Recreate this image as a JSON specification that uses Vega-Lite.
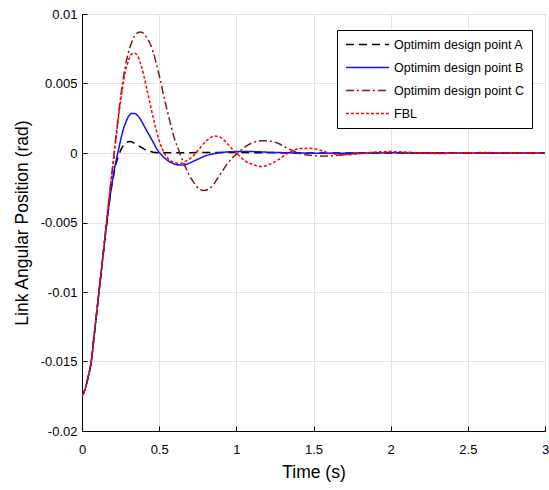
{
  "$schema": "https://vega.github.io/schema/vega-lite/v6.json",
  "width": 463,
  "height": 417,
  "autosize": {"type": "none"},
  "padding": {"left": 82, "top": 14, "right": 4, "bottom": 59},
  "background": "white",
  "config": {
    "view": {"stroke": "black", "strokeWidth": 1},
    "font": "Liberation Sans",
    "axis": {
      "domainColor": "black",
      "gridColor": "#e3e3e3",
      "gridWidth": 1,
      "tickColor": "black",
      "labelColor": "black",
      "titleColor": "black",
      "labelFont": "Liberation Sans",
      "titleFont": "Liberation Sans",
      "labelFontSize": 13,
      "titleFontSize": 17.5,
      "titleFontWeight": "normal"
    }
  },
  "data": {
    "values": [
      {"t": 0, "v": -0.0175, "s": "Optimim design point A"},
      {"t": 0.02, "v": -0.0170, "s": "Optimim design point A"},
      {"t": 0.04, "v": -0.0161, "s": "Optimim design point A"},
      {"t": 0.06, "v": -0.0150, "s": "Optimim design point A"},
      {"t": 0.08, "v": -0.0130, "s": "Optimim design point A"},
      {"t": 0.10, "v": -0.0110, "s": "Optimim design point A"},
      {"t": 0.12, "v": -0.0090, "s": "Optimim design point A"},
      {"t": 0.14, "v": -0.0070, "s": "Optimim design point A"},
      {"t": 0.16, "v": -0.0051, "s": "Optimim design point A"},
      {"t": 0.18, "v": -0.0033, "s": "Optimim design point A"},
      {"t": 0.20, "v": -0.0019, "s": "Optimim design point A"},
      {"t": 0.22, "v": -0.0008, "s": "Optimim design point A"},
      {"t": 0.24, "v": -0.0001, "s": "Optimim design point A"},
      {"t": 0.26, "v": 0.0004, "s": "Optimim design point A"},
      {"t": 0.28, "v": 0.0007, "s": "Optimim design point A"},
      {"t": 0.31, "v": 0.00082, "s": "Optimim design point A"},
      {"t": 0.34, "v": 0.0007, "s": "Optimim design point A"},
      {"t": 0.37, "v": 0.0005, "s": "Optimim design point A"},
      {"t": 0.40, "v": 0.0003, "s": "Optimim design point A"},
      {"t": 0.43, "v": 0.00015, "s": "Optimim design point A"},
      {"t": 0.46, "v": 0.00006, "s": "Optimim design point A"},
      {"t": 0.50, "v": 0.00002, "s": "Optimim design point A"},
      {"t": 0.6, "v": 0.00002, "s": "Optimim design point A"},
      {"t": 0.8, "v": 0.00003, "s": "Optimim design point A"},
      {"t": 1.0, "v": 0.00003, "s": "Optimim design point A"},
      {"t": 1.3, "v": 0.00001, "s": "Optimim design point A"},
      {"t": 1.6, "v": 0, "s": "Optimim design point A"},
      {"t": 2.0, "v": 0, "s": "Optimim design point A"},
      {"t": 2.5, "v": 0, "s": "Optimim design point A"},
      {"t": 3.0, "v": 0, "s": "Optimim design point A"},

      {"t": 0, "v": -0.0175, "s": "Optimim design point B"},
      {"t": 0.02, "v": -0.0170, "s": "Optimim design point B"},
      {"t": 0.04, "v": -0.0161, "s": "Optimim design point B"},
      {"t": 0.06, "v": -0.0150, "s": "Optimim design point B"},
      {"t": 0.08, "v": -0.0130, "s": "Optimim design point B"},
      {"t": 0.10, "v": -0.0110, "s": "Optimim design point B"},
      {"t": 0.12, "v": -0.0090, "s": "Optimim design point B"},
      {"t": 0.14, "v": -0.0070, "s": "Optimim design point B"},
      {"t": 0.16, "v": -0.0051, "s": "Optimim design point B"},
      {"t": 0.18, "v": -0.0033, "s": "Optimim design point B"},
      {"t": 0.20, "v": -0.0018, "s": "Optimim design point B"},
      {"t": 0.22, "v": -0.0006, "s": "Optimim design point B"},
      {"t": 0.24, "v": 0.0004, "s": "Optimim design point B"},
      {"t": 0.26, "v": 0.0014, "s": "Optimim design point B"},
      {"t": 0.28, "v": 0.0021, "s": "Optimim design point B"},
      {"t": 0.30, "v": 0.0026, "s": "Optimim design point B"},
      {"t": 0.32, "v": 0.00284, "s": "Optimim design point B"},
      {"t": 0.34, "v": 0.00285, "s": "Optimim design point B"},
      {"t": 0.36, "v": 0.0027, "s": "Optimim design point B"},
      {"t": 0.38, "v": 0.0024, "s": "Optimim design point B"},
      {"t": 0.40, "v": 0.0020, "s": "Optimim design point B"},
      {"t": 0.43, "v": 0.0014, "s": "Optimim design point B"},
      {"t": 0.46, "v": 0.0008, "s": "Optimim design point B"},
      {"t": 0.49, "v": 0.0002, "s": "Optimim design point B"},
      {"t": 0.52, "v": -0.0002, "s": "Optimim design point B"},
      {"t": 0.55, "v": -0.0005, "s": "Optimim design point B"},
      {"t": 0.58, "v": -0.0007, "s": "Optimim design point B"},
      {"t": 0.62, "v": -0.00085, "s": "Optimim design point B"},
      {"t": 0.65, "v": -0.00087, "s": "Optimim design point B"},
      {"t": 0.68, "v": -0.0008, "s": "Optimim design point B"},
      {"t": 0.72, "v": -0.0006, "s": "Optimim design point B"},
      {"t": 0.76, "v": -0.0004, "s": "Optimim design point B"},
      {"t": 0.80, "v": -0.0002, "s": "Optimim design point B"},
      {"t": 0.85, "v": -0.00006, "s": "Optimim design point B"},
      {"t": 0.90, "v": 0.00003, "s": "Optimim design point B"},
      {"t": 1.0, "v": 0.0001, "s": "Optimim design point B"},
      {"t": 1.1, "v": 0.0001, "s": "Optimim design point B"},
      {"t": 1.2, "v": 0.00006, "s": "Optimim design point B"},
      {"t": 1.4, "v": 0, "s": "Optimim design point B"},
      {"t": 1.6, "v": -0.00002, "s": "Optimim design point B"},
      {"t": 1.8, "v": 0, "s": "Optimim design point B"},
      {"t": 2.0, "v": 0.00001, "s": "Optimim design point B"},
      {"t": 2.5, "v": 0, "s": "Optimim design point B"},
      {"t": 3.0, "v": 0, "s": "Optimim design point B"},

      {"t": 0, "v": -0.0175, "s": "Optimim design point C"},
      {"t": 0.02, "v": -0.0170, "s": "Optimim design point C"},
      {"t": 0.04, "v": -0.0161, "s": "Optimim design point C"},
      {"t": 0.06, "v": -0.0150, "s": "Optimim design point C"},
      {"t": 0.08, "v": -0.0130, "s": "Optimim design point C"},
      {"t": 0.10, "v": -0.0110, "s": "Optimim design point C"},
      {"t": 0.12, "v": -0.0090, "s": "Optimim design point C"},
      {"t": 0.14, "v": -0.0070, "s": "Optimim design point C"},
      {"t": 0.16, "v": -0.0049, "s": "Optimim design point C"},
      {"t": 0.18, "v": -0.0028, "s": "Optimim design point C"},
      {"t": 0.20, "v": -0.0008, "s": "Optimim design point C"},
      {"t": 0.22, "v": 0.0012, "s": "Optimim design point C"},
      {"t": 0.24, "v": 0.0031, "s": "Optimim design point C"},
      {"t": 0.26, "v": 0.0048, "s": "Optimim design point C"},
      {"t": 0.28, "v": 0.0062, "s": "Optimim design point C"},
      {"t": 0.30, "v": 0.0072, "s": "Optimim design point C"},
      {"t": 0.32, "v": 0.0079, "s": "Optimim design point C"},
      {"t": 0.34, "v": 0.0084, "s": "Optimim design point C"},
      {"t": 0.36, "v": 0.00865, "s": "Optimim design point C"},
      {"t": 0.38, "v": 0.0087, "s": "Optimim design point C"},
      {"t": 0.40, "v": 0.0086, "s": "Optimim design point C"},
      {"t": 0.42, "v": 0.0083, "s": "Optimim design point C"},
      {"t": 0.44, "v": 0.0079, "s": "Optimim design point C"},
      {"t": 0.46, "v": 0.0073, "s": "Optimim design point C"},
      {"t": 0.48, "v": 0.0065, "s": "Optimim design point C"},
      {"t": 0.50, "v": 0.0056, "s": "Optimim design point C"},
      {"t": 0.52, "v": 0.0046, "s": "Optimim design point C"},
      {"t": 0.54, "v": 0.0036, "s": "Optimim design point C"},
      {"t": 0.56, "v": 0.0027, "s": "Optimim design point C"},
      {"t": 0.58, "v": 0.0018, "s": "Optimim design point C"},
      {"t": 0.60, "v": 0.0010, "s": "Optimim design point C"},
      {"t": 0.62, "v": 0.0004, "s": "Optimim design point C"},
      {"t": 0.64, "v": -0.0002, "s": "Optimim design point C"},
      {"t": 0.67, "v": -0.0010, "s": "Optimim design point C"},
      {"t": 0.70, "v": -0.0017, "s": "Optimim design point C"},
      {"t": 0.73, "v": -0.0022, "s": "Optimim design point C"},
      {"t": 0.76, "v": -0.0026, "s": "Optimim design point C"},
      {"t": 0.79, "v": -0.0027, "s": "Optimim design point C"},
      {"t": 0.82, "v": -0.0026, "s": "Optimim design point C"},
      {"t": 0.85, "v": -0.0023, "s": "Optimim design point C"},
      {"t": 0.88, "v": -0.0018, "s": "Optimim design point C"},
      {"t": 0.91, "v": -0.0013, "s": "Optimim design point C"},
      {"t": 0.94, "v": -0.0008, "s": "Optimim design point C"},
      {"t": 0.97, "v": -0.0004, "s": "Optimim design point C"},
      {"t": 1.00, "v": -0.0001, "s": "Optimim design point C"},
      {"t": 1.04, "v": 0.0003, "s": "Optimim design point C"},
      {"t": 1.08, "v": 0.0006, "s": "Optimim design point C"},
      {"t": 1.12, "v": 0.0008, "s": "Optimim design point C"},
      {"t": 1.17, "v": 0.00089, "s": "Optimim design point C"},
      {"t": 1.22, "v": 0.00085, "s": "Optimim design point C"},
      {"t": 1.27, "v": 0.0007, "s": "Optimim design point C"},
      {"t": 1.32, "v": 0.0004, "s": "Optimim design point C"},
      {"t": 1.36, "v": 0.0002, "s": "Optimim design point C"},
      {"t": 1.40, "v": 0, "s": "Optimim design point C"},
      {"t": 1.45, "v": -0.00012, "s": "Optimim design point C"},
      {"t": 1.52, "v": -0.0002, "s": "Optimim design point C"},
      {"t": 1.59, "v": -0.00022, "s": "Optimim design point C"},
      {"t": 1.66, "v": -0.00016, "s": "Optimim design point C"},
      {"t": 1.75, "v": -0.00006, "s": "Optimim design point C"},
      {"t": 1.85, "v": 0.00002, "s": "Optimim design point C"},
      {"t": 2.0, "v": 0.00004, "s": "Optimim design point C"},
      {"t": 2.2, "v": 0.00001, "s": "Optimim design point C"},
      {"t": 2.5, "v": -0.00001, "s": "Optimim design point C"},
      {"t": 3.0, "v": 0, "s": "Optimim design point C"},

      {"t": 0, "v": -0.0175, "s": "FBL"},
      {"t": 0.02, "v": -0.0170, "s": "FBL"},
      {"t": 0.04, "v": -0.0161, "s": "FBL"},
      {"t": 0.06, "v": -0.0150, "s": "FBL"},
      {"t": 0.08, "v": -0.0130, "s": "FBL"},
      {"t": 0.10, "v": -0.0110, "s": "FBL"},
      {"t": 0.12, "v": -0.0090, "s": "FBL"},
      {"t": 0.14, "v": -0.0069, "s": "FBL"},
      {"t": 0.16, "v": -0.0048, "s": "FBL"},
      {"t": 0.18, "v": -0.0028, "s": "FBL"},
      {"t": 0.20, "v": -0.0009, "s": "FBL"},
      {"t": 0.22, "v": 0.0010, "s": "FBL"},
      {"t": 0.24, "v": 0.0029, "s": "FBL"},
      {"t": 0.26, "v": 0.0045, "s": "FBL"},
      {"t": 0.28, "v": 0.0058, "s": "FBL"},
      {"t": 0.30, "v": 0.0066, "s": "FBL"},
      {"t": 0.32, "v": 0.0071, "s": "FBL"},
      {"t": 0.34, "v": 0.00718, "s": "FBL"},
      {"t": 0.36, "v": 0.0070, "s": "FBL"},
      {"t": 0.38, "v": 0.0064, "s": "FBL"},
      {"t": 0.40, "v": 0.0056, "s": "FBL"},
      {"t": 0.42, "v": 0.0046, "s": "FBL"},
      {"t": 0.44, "v": 0.0036, "s": "FBL"},
      {"t": 0.46, "v": 0.0026, "s": "FBL"},
      {"t": 0.48, "v": 0.0017, "s": "FBL"},
      {"t": 0.50, "v": 0.0009, "s": "FBL"},
      {"t": 0.52, "v": 0.0003, "s": "FBL"},
      {"t": 0.55, "v": -0.0003, "s": "FBL"},
      {"t": 0.58, "v": -0.0006, "s": "FBL"},
      {"t": 0.61, "v": -0.00072, "s": "FBL"},
      {"t": 0.64, "v": -0.00074, "s": "FBL"},
      {"t": 0.67, "v": -0.0006, "s": "FBL"},
      {"t": 0.70, "v": -0.0004, "s": "FBL"},
      {"t": 0.73, "v": -0.0001, "s": "FBL"},
      {"t": 0.76, "v": 0.0003, "s": "FBL"},
      {"t": 0.79, "v": 0.0007, "s": "FBL"},
      {"t": 0.82, "v": 0.0010, "s": "FBL"},
      {"t": 0.86, "v": 0.00122, "s": "FBL"},
      {"t": 0.90, "v": 0.0011, "s": "FBL"},
      {"t": 0.94, "v": 0.0007, "s": "FBL"},
      {"t": 0.98, "v": 0.0002, "s": "FBL"},
      {"t": 1.02, "v": -0.0002, "s": "FBL"},
      {"t": 1.06, "v": -0.0006, "s": "FBL"},
      {"t": 1.10, "v": -0.0008, "s": "FBL"},
      {"t": 1.16, "v": -0.00097, "s": "FBL"},
      {"t": 1.22, "v": -0.0008, "s": "FBL"},
      {"t": 1.27, "v": -0.0005, "s": "FBL"},
      {"t": 1.32, "v": -0.0001, "s": "FBL"},
      {"t": 1.37, "v": 0.0002, "s": "FBL"},
      {"t": 1.42, "v": 0.00032, "s": "FBL"},
      {"t": 1.48, "v": 0.00034, "s": "FBL"},
      {"t": 1.54, "v": 0.0002, "s": "FBL"},
      {"t": 1.60, "v": 0, "s": "FBL"},
      {"t": 1.66, "v": -0.0001, "s": "FBL"},
      {"t": 1.72, "v": -0.00012, "s": "FBL"},
      {"t": 1.80, "v": -0.00005, "s": "FBL"},
      {"t": 1.90, "v": 0.00006, "s": "FBL"},
      {"t": 2.0, "v": 0.0001, "s": "FBL"},
      {"t": 2.1, "v": 0.00006, "s": "FBL"},
      {"t": 2.2, "v": -0.00002, "s": "FBL"},
      {"t": 2.3, "v": -0.00004, "s": "FBL"},
      {"t": 2.45, "v": 0, "s": "FBL"},
      {"t": 2.6, "v": 0.00003, "s": "FBL"},
      {"t": 2.8, "v": 0, "s": "FBL"},
      {"t": 3.0, "v": 0, "s": "FBL"}
    ]
  },
  "mark": {"type": "line", "interpolate": "monotone", "clip": true},
  "encoding": {
    "x": {
      "field": "t", "type": "quantitative",
      "scale": {"domain": [0, 3], "nice": false},
      "axis": {"values": [0, 0.5, 1, 1.5, 2, 2.5, 3], "labelExpr": "datum.value + ''", "title": "Time (s)", "tickSize": -5, "labelPadding": 17, "titlePadding": 7, "labelFlush": false}
    },
    "y": {
      "field": "v", "type": "quantitative",
      "scale": {"domain": [-0.02, 0.01], "nice": false, "zero": false},
      "axis": {"values": [-0.02, -0.015, -0.01, -0.005, 0, 0.005, 0.01], "labelExpr": "datum.value + ''", "title": "Link Angular Position (rad)", "tickSize": -5, "labelPadding": 10, "titlePadding": 9, "labelFlush": false}
    },
    "color": {
      "field": "s", "type": "nominal",
      "scale": {
        "domain": ["Optimim design point A", "Optimim design point B", "Optimim design point C", "FBL"],
        "range": ["#000000", "#1010ff", "#801818", "#ff0000"]
      },
      "legend": {
        "title": null,
        "orient": "none",
        "legendX": 255,
        "legendY": 16,
        "strokeColor": "black",
        "fillColor": "white",
        "padding": 8,
        "symbolType": "M-4,0H4",
        "symbolSize": 116,
        "symbolOffset": 16,
        "labelFontSize": 12.5,
        "labelFont": "Liberation Sans",
        "labelColor": "black",
        "labelOffset": 20,
        "rowPadding": 10,
        "labelLimit": 300
      }
    },
    "strokeDash": {
      "field": "s", "type": "nominal",
      "scale": {
        "domain": ["Optimim design point A", "Optimim design point B", "Optimim design point C", "FBL"],
        "range": [[8, 5], [1, 0], [8, 3, 2, 3], [3, 2]]
      }
    },
    "strokeWidth": {
      "field": "s", "type": "nominal",
      "scale": {
        "domain": ["Optimim design point A", "Optimim design point B", "Optimim design point C", "FBL"],
        "range": [1.5, 1.5, 1.5, 3.5]
      }
    }
  }
}
